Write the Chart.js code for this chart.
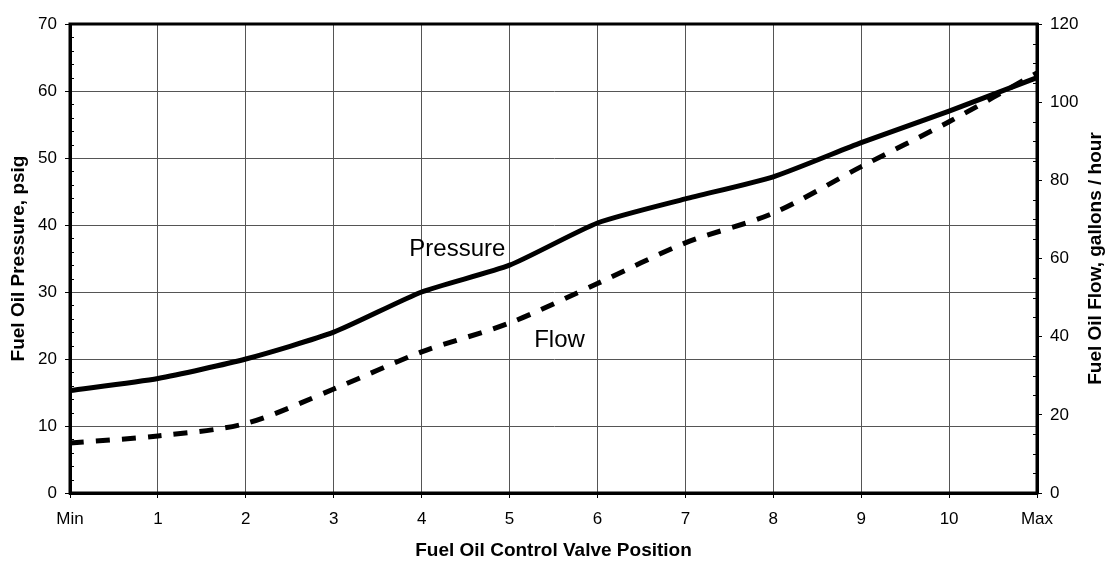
<!DOCTYPE html>
<html>
<head>
<meta charset="utf-8">
<script src="https://cdn.jsdelivr.net/npm/chart.js@4.4.0/dist/chart.umd.min.js"></script>
<style>
  html, body { margin: 0; padding: 0; background: #fff; }
  #wrap { width: 1110px; height: 561px; }
</style>
</head>
<body>
<div id="wrap"><canvas id="fuel-oil-chart" width="1110" height="561"></canvas></div>
<script>
// valve positions along the bottom
const positions = ['Min', '1', '2', '3', '4', '5', '6', '7', '8', '9', '10', 'Max'];
// psig, left axis
const pressure = [15.3, 17.1, 20.0, 24.0, 30.0, 34.0, 40.3, 43.9, 47.2, 52.3, 57.0, 62.0];
// gallons / hour, right axis
const flow = [12.8, 14.6, 17.8, 26.6, 36.1, 43.5, 53.6, 64.0, 71.6, 83.5, 95.0, 107.5];

const pressureRange = [0, 70];
const flowRange = [0, 120];

const FONT = '"Liberation Sans", Arial, sans-serif';

// frame, minor ticks, in-plot labels and axis titles
const decorations = {
    id: 'decorations',
    afterDraw(chart) {
        const ctx = chart.ctx;
        const area = chart.chartArea;
        const x = chart.scales.x;
        const y = chart.scales.y;
        const y1 = chart.scales.y1;

        ctx.save();
        ctx.strokeStyle = '#000';

        // minor ticks, inside the frame
        ctx.lineWidth = 1;
        ctx.beginPath();
        for (let v = pressureRange[0]; v <= pressureRange[1]; v += 2) {
            if (v % 10 === 0) continue;
            const py = Math.round(y.getPixelForValue(v)) + 0.5;
            ctx.moveTo(area.left, py);
            ctx.lineTo(area.left + 4, py);
        }
        for (let v = flowRange[0]; v <= flowRange[1]; v += 5) {
            if (v % 20 === 0) continue;
            const py = Math.round(y1.getPixelForValue(v)) + 0.5;
            ctx.moveTo(area.right - 4, py);
            ctx.lineTo(area.right, py);
        }
        ctx.stroke();

        // thick frame round the plot
        ctx.lineWidth = 3;
        ctx.strokeRect(area.left, area.top, area.right - area.left, area.bottom - area.top);

        // series labels inside the plot
        ctx.fillStyle = '#000';
        ctx.font = '24px ' + FONT;
        ctx.textAlign = 'left';
        ctx.textBaseline = 'alphabetic';
        ctx.fillText('Pressure', x.getPixelForValue(3.86), y.getPixelForValue(35.4));
        ctx.fillText('Flow', x.getPixelForValue(5.28), y.getPixelForValue(21.8));

        // axis titles
        ctx.font = 'bold 19px ' + FONT;
        ctx.textAlign = 'center';
        ctx.textBaseline = 'middle';
        const midX = (area.left + area.right) / 2;
        const midY = (area.top + area.bottom) / 2;
        ctx.fillText('Fuel Oil Control Valve Position', midX, 551);

        ctx.save();
        ctx.translate(19, midY);
        ctx.rotate(-Math.PI / 2);
        ctx.fillText('Fuel Oil Pressure, psig', 0, 0);
        ctx.restore();

        ctx.save();
        ctx.translate(1096, midY);
        ctx.rotate(-Math.PI / 2);
        ctx.fillText('Fuel Oil Flow, gallons / hour', 0, 0);
        ctx.restore();

        ctx.restore();
    }
};

const tickFont = { family: FONT, size: 17 };

const config = {
    type: 'line',
    data: {
        labels: positions,
        datasets: [
            {
                label: 'Flow',
                data: flow,
                yAxisID: 'y1',
                borderColor: '#000',
                borderWidth: 5,
                borderDash: [14, 12],
                borderCapStyle: 'butt',
                tension: 0.3,
                pointRadius: 0,
                fill: false
            },
            {
                label: 'Pressure',
                data: pressure,
                yAxisID: 'y',
                borderColor: '#000',
                borderWidth: 5,
                borderJoinStyle: 'round',
                tension: 0.2,
                pointRadius: 0,
                fill: false
            }
        ]
    },
    options: {
        responsive: false,
        animation: false,
        devicePixelRatio: 1,
        layout: { padding: { top: 24, left: 0, right: 0, bottom: 0 } },
        plugins: {
            legend: { display: false },
            tooltip: { enabled: false }
        },
        scales: {
            x: {
                offset: false,
                grid: { color: '#555', lineWidth: 1, tickLength: 5, tickColor: '#000' },
                border: { color: '#000', width: 3 },
                ticks: { color: '#000', font: tickFont, padding: 11, maxRotation: 0, autoSkip: false },
                afterFit: (scale) => { scale.height = 68; }
            },
            y: {
                position: 'left',
                min: pressureRange[0],
                max: pressureRange[1],
                grid: { color: '#555', lineWidth: 1, tickLength: 5, tickColor: '#000' },
                border: { color: '#000', width: 3 },
                ticks: { color: '#000', font: tickFont, stepSize: 10, padding: 8 },
                afterFit: (scale) => { scale.width = 70; }
            },
            y1: {
                position: 'right',
                min: flowRange[0],
                max: flowRange[1],
                grid: { drawOnChartArea: false, tickLength: 5, tickColor: '#000' },
                border: { color: '#000', width: 3 },
                ticks: { color: '#000', font: tickFont, stepSize: 20, padding: 8 },
                afterFit: (scale) => { scale.width = 73; }
            }
        }
    },
    plugins: [decorations]
};

const ctx = document.getElementById('fuel-oil-chart').getContext('2d');
window.fuelChart = new Chart(ctx, config);
</script>
</body>
</html>
